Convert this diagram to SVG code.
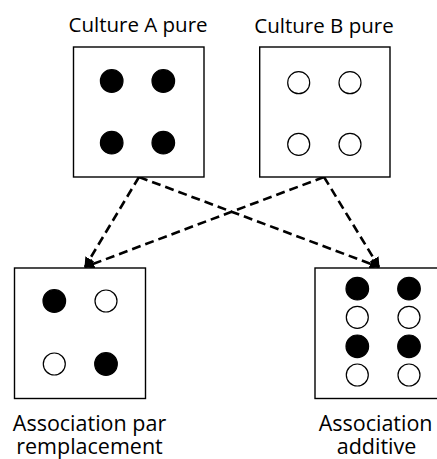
<svg xmlns="http://www.w3.org/2000/svg" width="437" height="459" viewBox="0 0 437 459">
<defs>
<style>
.box{fill:#fff;stroke:#000;stroke-width:1.4}
.f{fill:#000;stroke:#000;stroke-width:1.2}
.o{fill:#fff;stroke:#000;stroke-width:1.2}
.lbl{font-family:"Open Sans","Liberation Sans",sans-serif;font-size:20.5px;fill:#000;text-anchor:middle}
.lbl2{font-family:"Open Sans","Liberation Sans",sans-serif;font-size:21.5px;fill:#000;text-anchor:middle}
.dash{fill:none;stroke:#000;stroke-width:2.6;stroke-dasharray:9 5}
</style>
<marker id="ah" viewBox="0 0 10 10" refX="9" refY="5" markerWidth="4" markerHeight="4" orient="auto" markerUnits="strokeWidth">
<path d="M0,0 L10,5 L0,10 z" fill="#000"/>
</marker>
</defs>
<rect width="437" height="459" fill="#fff"/>
<g id="connectors">
<line class="dash" x1="139" y1="177" x2="85" y2="267" marker-end="url(#ah)"/>
<line class="dash" x1="324" y1="177" x2="85" y2="267" marker-end="url(#ah)"/>
<line class="dash" x1="139" y1="177" x2="379" y2="267" marker-end="url(#ah)"/>
<line class="dash" x1="324" y1="177" x2="379" y2="267" marker-end="url(#ah)"/>
</g>
<g id="cultureA">
<text class="lbl" x="138" y="32">Culture A pure</text>
<rect class="box" x="73.5" y="47" width="130.5" height="130"/>
<circle class="f" cx="111.7" cy="81" r="11.3"/>
<circle class="f" cx="163.3" cy="81" r="11.3"/>
<circle class="f" cx="111.7" cy="142.7" r="11.3"/>
<circle class="f" cx="163.3" cy="142.7" r="11.3"/>
</g>
<g id="cultureB">
<text class="lbl" x="324" y="33">Culture B pure</text>
<rect class="box" x="259.7" y="47" width="130.3" height="130"/>
<circle class="o" cx="298.7" cy="82.7" r="11"/>
<circle class="o" cx="350" cy="82.7" r="11"/>
<circle class="o" cx="298.7" cy="144.3" r="11"/>
<circle class="o" cx="350" cy="144.3" r="11"/>
</g>
<g id="remplacement">
<rect class="box" x="14.5" y="268" width="131" height="130.5"/>
<circle class="f" cx="54.3" cy="301" r="11.3"/>
<circle class="o" cx="106" cy="301" r="11"/>
<circle class="o" cx="54.3" cy="364" r="11"/>
<circle class="f" cx="106" cy="364" r="11.3"/>
<text class="lbl2" x="89.5" y="431">Association par</text>
<text class="lbl2" x="89.5" y="453.5">remplacement</text>
</g>
<g id="additive">
<rect class="box" x="315" y="268" width="131" height="130.5"/>
<circle class="f" cx="357.3" cy="288.7" r="11.3"/>
<circle class="f" cx="409" cy="288.7" r="11.3"/>
<circle class="o" cx="357.3" cy="317.3" r="11"/>
<circle class="o" cx="409" cy="317.3" r="11"/>
<circle class="f" cx="357.3" cy="346.3" r="11.3"/>
<circle class="f" cx="409" cy="346.3" r="11.3"/>
<circle class="o" cx="357.3" cy="375" r="11"/>
<circle class="o" cx="409" cy="375" r="11"/>
<text class="lbl2" x="375.6" y="431">Association</text>
<text class="lbl2" x="376.5" y="453.5">additive</text>
</g>
</svg>
